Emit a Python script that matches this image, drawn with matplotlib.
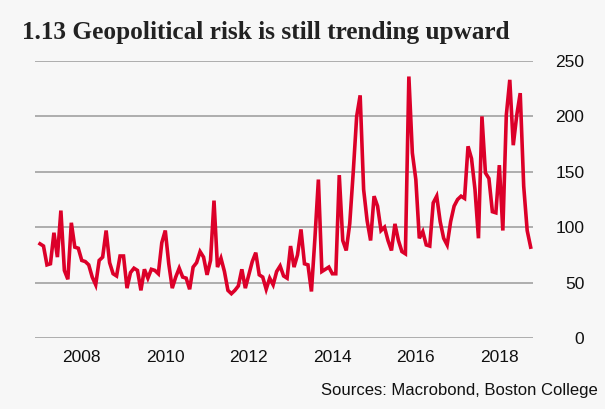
import numpy as np
import matplotlib
matplotlib.use('Agg')
import matplotlib.pyplot as plt

# Geopolitical risk index, monthly, Jan 2007 - Oct 2018
gpr_2007 = [85, 83, 66, 67, 95, 73, 115, 61, 53, 104, 82, 81]
gpr_2008 = [70, 69, 66, 55, 48, 70, 73, 97, 68, 58, 56, 74]
gpr_2009 = [74, 45, 59, 63, 61, 43, 62, 54, 62, 61, 58, 86]
gpr_2010 = [97, 67, 45, 55, 63, 55, 54, 44, 64, 68, 78, 73]
gpr_2011 = [57, 70, 124, 64, 72, 60, 43, 40, 43, 47, 62, 45]
gpr_2012 = [57, 69, 77, 57, 55, 44, 54, 48, 60, 65, 56, 54]
gpr_2013 = [83, 64, 75, 98, 67, 66, 42, 90, 143, 60, 62, 64]
gpr_2014 = [58, 58, 147, 88, 79, 103, 149, 200, 219, 134, 106, 88]
gpr_2015 = [128, 119, 97, 100, 88, 79, 103, 88, 78, 76, 236, 167]
gpr_2016 = [143, 90, 96, 84, 83, 122, 128, 105, 90, 84, 105, 119]
gpr_2017 = [125, 128, 126, 173, 162, 134, 90, 200, 149, 144, 114, 113]
gpr_2018 = [156, 97, 201, 233, 174, 201, 221, 137, 97, 82]

gpr = (gpr_2007 + gpr_2008 + gpr_2009 + gpr_2010 + gpr_2011 + gpr_2012
       + gpr_2013 + gpr_2014 + gpr_2015 + gpr_2016 + gpr_2017 + gpr_2018)
years = 2007 + np.arange(len(gpr)) / 12.0

year_ticks = [2008, 2010, 2012, 2014, 2016, 2018]
y_ticks = [0, 50, 100, 150, 200, 250]

bg = '#f7f7f7'
red = '#dc0029'
plt.rcParams['font.family'] = ['Liberation Sans', 'DejaVu Sans']

fig = plt.figure(figsize=(6.05, 4.09), dpi=100, facecolor=bg)
ax = fig.add_axes([35/605, 71/409, 498/605, 277/409])
ax.set_facecolor(bg)

ax.plot(years, gpr, color=red, lw=2.6, solid_joinstyle='miter', zorder=3)

ax.set_xlim(2006.88, 2018.806)
ax.set_ylim(0, 250)
ax.set_xticks(year_ticks)
ax.set_xticklabels([str(y) for y in year_ticks])
ax.set_yticks(y_ticks)
ax.yaxis.tick_right()
ax.tick_params(axis='both', length=0, labelsize=12.5, colors='#111111')
ax.tick_params(axis='y', pad=37)
for lab in ax.get_yticklabels():
    lab.set_horizontalalignment('right')
ax.tick_params(axis='x', pad=9)
ax.grid(axis='y', color='#9a9a9a', lw=1.1)
ax.set_axisbelow(True)
for s in ax.spines.values():
    s.set_visible(False)

fig.text(22/605, 1 - 33/409, '1.13 Geopolitical risk is still trending upward',
         fontsize=18.2, family='Liberation Serif', weight='bold', color='#222222',
         va='center', ha='left')
fig.text(598/605, 1 - 390/409, 'Sources: Macrobond, Boston College',
         fontsize=12, color='#111111', va='center', ha='right')

fig.savefig('out.png', dpi=100, facecolor=bg)
